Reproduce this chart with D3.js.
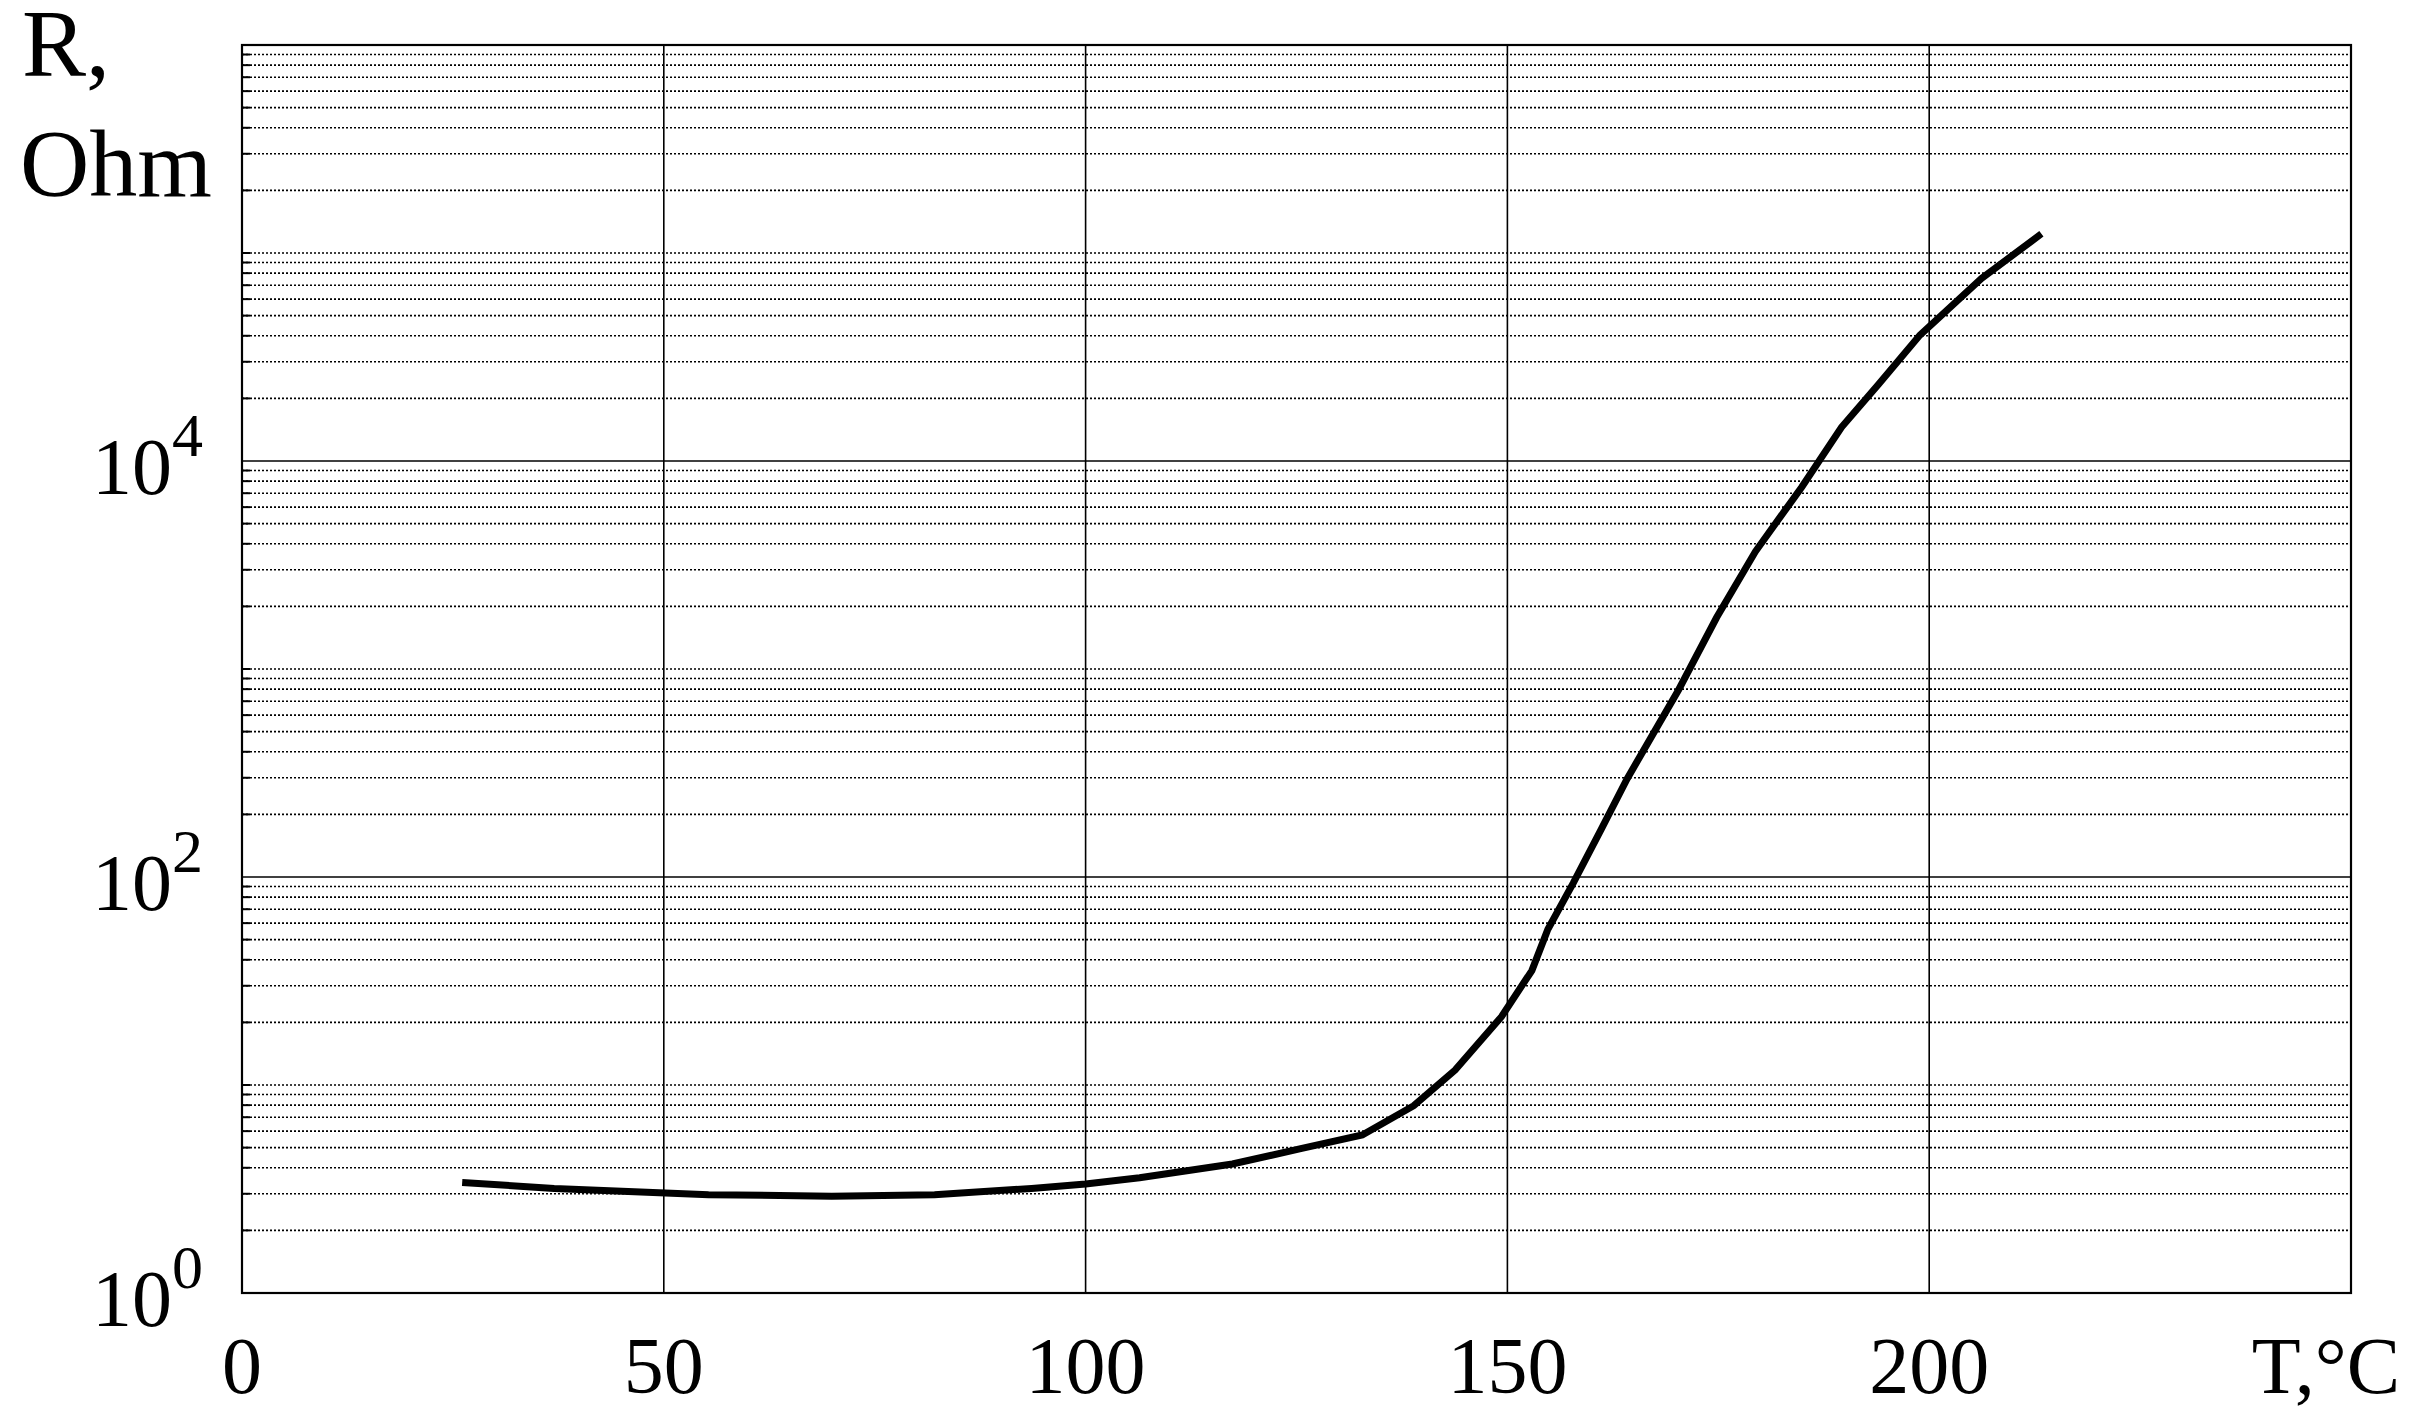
<!DOCTYPE html>
<html>
<head>
<meta charset="utf-8">
<script src="https://cdn.jsdelivr.net/npm/d3@7"></script>
<style>
  body { margin: 0; background: #fff; }
  text { font-family: 'Liberation Serif', 'DejaVu Serif', serif; fill: #000; }
</style>
</head>
<body>
<svg id="chart" width="2414" height="1427"></svg>
<script>
// curve
var temps = [26.1, 37.0, 55.3, 69.9, 82.1, 93.6, 100, 106.4, 117.4, 125.5, 132.8, 138.9, 143.8, 149.3, 152.9, 154.8, 157.8, 161.1, 164.2, 170.3, 174.8, 179.4, 184.9, 189.6, 194, 198.9, 206.2, 213.3]
var resist = [3.40, 3.18, 2.97, 2.92, 2.97, 3.18, 3.34, 3.58, 4.17, 4.94, 5.75, 7.95, 11.8, 21.3, 35.5, 56.1, 93.4, 169, 297, 795, 1767, 3670, 7500, 14530, 23400, 40300, 75500, 123700]
var xTicks = [0, 50, 100, 150, 200]
var yLabelExp = [0, 2, 4]

var pLeft = 242, pRight = 2351, pTop = 45, pBottom = 1293
var svg = d3.select('#chart')

var x = d3.scaleLinear().domain([0, 250]).range([pLeft, pRight])
var y = d3.scaleLog().domain([1, 1e6]).range([pBottom, pTop])

// minor grid lines (dotted) for every 1..9 x 10^n
var minor = []
for (let e = 0; e < 6; e++) {
  for (let m = 1; m < 10; m++) {
    let v = m * Math.pow(10, e)
    if (v > 1 && !(m == 1 && e % 2 == 0)) minor.push(v)
  }
}
svg.append('g').selectAll('line')
  .data(minor)
  .enter().append('line')
  .attr('x1', pLeft).attr('x2', pRight)
  .attr('y1', d => y(d)).attr('y2', d => y(d))
  .attr('stroke', '#000')
  .attr('stroke-width', 1.6)
  .attr('stroke-dasharray', '2,2')

// little solid ticks at the left end of every grid line
svg.append('g').selectAll('line')
  .data(minor)
  .enter().append('line')
  .attr('x1', pLeft).attr('x2', pLeft + 8)
  .attr('y1', d => y(d)).attr('y2', d => y(d))
  .attr('stroke', '#000').attr('stroke-width', 2)

// major horizontal lines
svg.append('g').selectAll('line')
  .data([1e2, 1e4])
  .enter().append('line')
  .attr('x1', pLeft).attr('x2', pRight)
  .attr('y1', d => y(d)).attr('y2', d => y(d))
  .attr('stroke', '#000').attr('stroke-width', 1.6)

// vertical grid lines
svg.append('g').selectAll('line')
  .data([50, 100, 150, 200])
  .enter().append('line')
  .attr('x1', d => x(d)).attr('x2', d => x(d))
  .attr('y1', pTop).attr('y2', pBottom)
  .attr('stroke', '#000').attr('stroke-width', 1.6)

// frame
svg.append('rect')
  .attr('x', pLeft).attr('y', pTop)
  .attr('width', pRight - pLeft).attr('height', pBottom - pTop)
  .attr('fill', 'none').attr('stroke', '#000').attr('stroke-width', 2.2)

// x tick labels
svg.append('g').selectAll('text')
  .data(xTicks)
  .enter().append('text')
  .attr('x', d => x(d))
  .attr('y', 1393)
  .attr('text-anchor', 'middle')
  .attr('font-size', 80)
  .text(d => d)

svg.append('text')
  .attr('x', 2400).attr('y', 1393)
  .attr('text-anchor', 'end')
  .attr('font-size', 80)
  .text('T,°C')

// y labels 10^n
var yl = svg.append('g').selectAll('text')
  .data(yLabelExp)
  .enter().append('text')
  .attr('x', 92)
  .attr('y', d => y(Math.pow(10, d)) + 33)
  .attr('font-size', 80)
yl.append('tspan').text('10')
yl.append('tspan').attr('dy', -38).attr('font-size', 62).text(d => d)

svg.append('text').attr('x', 22).attr('y', 76).attr('font-size', 96).text('R,')
svg.append('text').attr('x', 20).attr('y', 196).attr('font-size', 96).text('Ohm')

// the curve
var line = d3.line()
  .x(d => x(d[0]))
  .y(d => y(d[1]))
svg.append('path')
  .datum(temps.map((t, i) => [t, resist[i]]))
  .attr('d', line)
  .attr('fill', 'none')
  .attr('stroke', '#000')
  .attr('stroke-width', 7)
</script>
</body>
</html>
